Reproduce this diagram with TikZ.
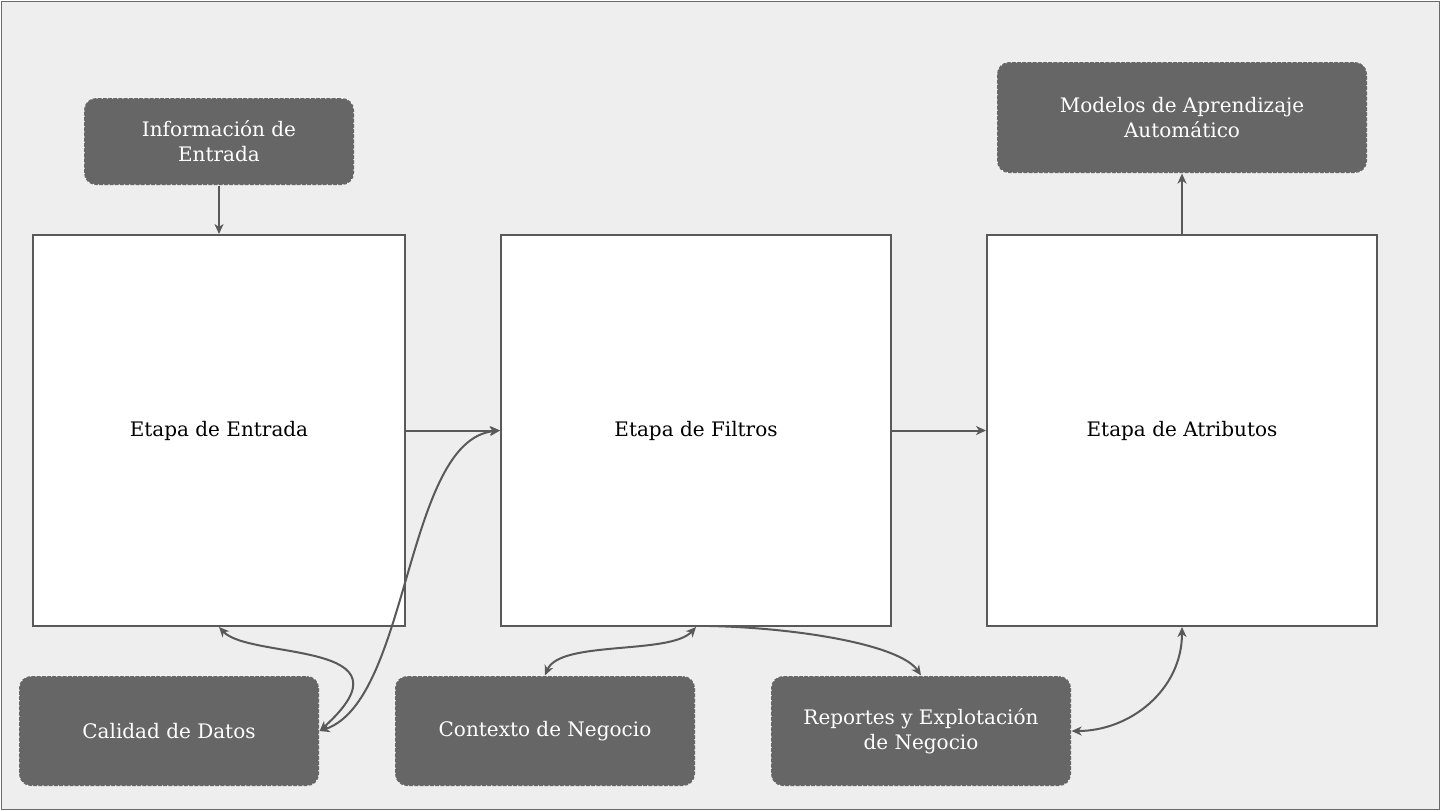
\documentclass[tikz,border=0pt]{standalone}
\usepackage{fontspec}
\setmainfont{DejaVu Serif}
\usetikzlibrary{arrows.meta}
\definecolor{ln}{HTML}{595959}
\definecolor{dk}{HTML}{666666}
\definecolor{bg}{HTML}{EEEEEE}
\begin{document}
\begin{tikzpicture}[
		x = 0.5pt,
		y = -0.5pt,
		st/.style = {
			draw = ln,
			rectangle,
			fill = white,
			line width = 1pt,
			inner sep = 0,
			minimum height = 195.5pt,
			font = \fontsize{10}{12.5}\selectfont
		},
		bx/.style = {
			draw = white,
			dotted,
			line width = 0.6pt,
			rectangle,
			rounded corners = 6pt,
			fill = dk,
			text = white,
			align = center,
			inner sep = 0,
			minimum width = 150pt,
			minimum height = 55pt,
			font = \fontsize{10}{12.5}\selectfont
		},
		ar/.style = {
			draw = ln,
			line width = 1pt,
			-{Stealth[length = 5pt, width = 4.5pt, inset = 1.5pt]}
		},
		dar/.style = {
			ar,
			{Stealth[length = 5pt, width = 4.5pt, inset = 1.5pt]}-{Stealth[length = 5pt, width = 4.5pt, inset = 1.5pt]}
		}
	]
	\useasboundingbox (0, 0) rectangle (1440, 810);
	\draw[fill = bg, draw = ln!90] (1, 1) rectangle (1439, 809);

	% etapas
	\node [st, minimum width = 186pt] (ent) at ( 219, 430.5) {Etapa de Entrada};
	\node [st, minimum width = 195pt] (fil) at ( 696, 430.5) {Etapa de Filtros};
	\node [st, minimum width = 195pt] (atr) at (1182, 430.5) {Etapa de Atributos};

	% cajas
	\node [bx, minimum width = 135pt, minimum height = 43.5pt] (inf) at ( 219, 141.5) {Información de\\Entrada};
	\node [bx, minimum width = 185pt, minimum height = 55.5pt] (mod) at (1182, 117.5) {Modelos de Aprendizaje\\Automático};
	\node [bx] (cal) at (169, 731) {Calidad de Datos};
	\node [bx] (ctx) at (545, 731) {Contexto de Negocio};
	\node [bx] (rep) at (921, 731) {Reportes y Explotación\\de Negocio};

	\coordinate (fs) at (710, 626);

	\draw [ar] (inf) -- (ent);
	\draw [ar] (ent) -- (fil);
	\draw [ar] (fil) -- (atr);
	\draw [ar] (atr) -- (mod);

	\draw [dar] (ent.south) .. controls (250, 660) and (420, 640) .. (cal.east);
	\draw [dar] (cal.east) .. controls (410, 700) and (405, 440) .. (fil.west);
	\draw [dar] (fil.south) .. controls (670, 655) and (560, 640) .. (ctx.north);
	\draw [ar] (fs) .. controls (800, 628) and (900, 645) .. (rep.north);
	\draw [dar] (atr.south) .. controls (1182, 690) and (1130, 731) .. (rep.east);
\end{tikzpicture}
\end{document}
